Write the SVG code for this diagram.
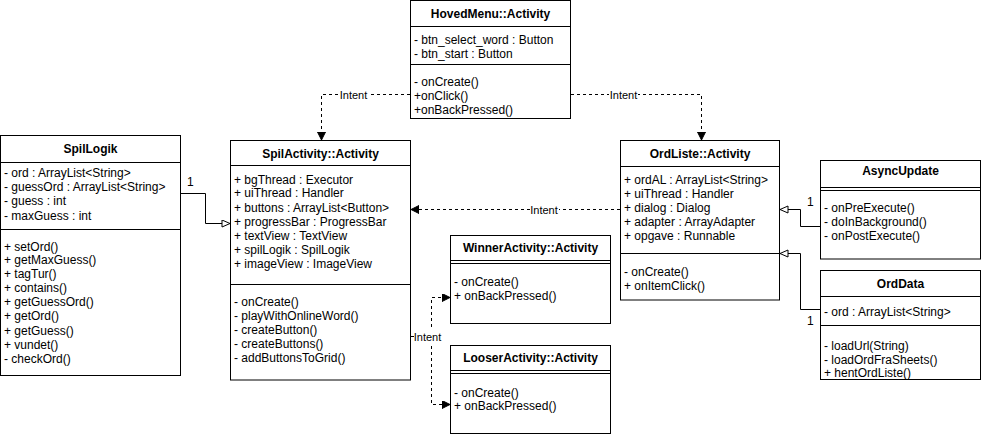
<svg xmlns="http://www.w3.org/2000/svg" width="981" height="438" viewBox="0 0 981 438">
<style>
  .box { fill: #ffffff; stroke: #000000; stroke-width: 1; }
  .ln { fill: none; stroke: #000000; stroke-width: 1; }
  .t { font-family: "Liberation Sans", Arial, sans-serif; font-size: 12px; fill: #000000; }
  .h { font-family: "Liberation Sans", Arial, sans-serif; font-size: 12px; font-weight: bold; fill: #000000; text-anchor: middle; }
  .lbl { font-family: "Liberation Sans", Arial, sans-serif; font-size: 11px; fill: #000000; text-anchor: middle; }
  .dash { fill: none; stroke: #000000; stroke-width: 1; stroke-dasharray: 3 3; }
  .lblbg { fill: #ffffff; stroke: none; }
</style>
<defs>
  <marker id="filled" markerUnits="userSpaceOnUse" markerWidth="10" markerHeight="9" refX="8" refY="4" orient="auto">
    <path d="M0,0 L8,4 L0,8 z" fill="#000000" stroke="#000000" stroke-width="1" stroke-dasharray="none"/>
  </marker>
  <marker id="hollow" markerUnits="userSpaceOnUse" markerWidth="11" markerHeight="9" refX="9" refY="4" orient="auto">
    <path d="M1,0.5 L9,4 L1,7.5 z" fill="#ffffff" stroke="#000000" stroke-width="1"/>
  </marker>
</defs>

<g id="connectors">
  <!-- HovedMenu -> SpilActivity -->
  <path class="dash" d="M410,94.5 H321.5 V140" marker-end="url(#filled)"/>
  <rect class="lblbg" x="339" y="88" width="29" height="13"/>
  <text class="lbl" x="353.5" y="98.5">Intent</text>
  <!-- HovedMenu -> OrdListe -->
  <path class="dash" d="M571,94.5 H701.5 V140" marker-end="url(#filled)"/>
  <rect class="lblbg" x="609" y="88" width="29" height="13"/>
  <text class="lbl" x="623.5" y="98.5">Intent</text>
  <!-- OrdListe -> SpilActivity -->
  <path class="dash" d="M620,209.5 H411" marker-end="url(#filled)"/>
  <rect class="lblbg" x="530" y="203" width="29" height="13"/>
  <text class="lbl" x="544" y="213.5">Intent</text>
  <!-- SpilActivity -> Winner / Looser -->
  <path class="dash" d="M411,336.5 H431.5 V297.5 H450" marker-end="url(#filled)"/>
  <path class="dash" d="M411,336.5 H431.5 V404.5 H450" marker-end="url(#filled)"/>
  <rect class="lblbg" x="414" y="330" width="27" height="13"/>
  <text class="lbl" x="427.5" y="340.5">Intent</text>
  <!-- SpilLogik -> SpilActivity -->
  <path class="ln" d="M181,193.5 H205.5 V223.5 H230" marker-end="url(#hollow)"/>
  <text class="t" x="187" y="186">1</text>
  <!-- AsyncUpdate -> OrdListe -->
  <path class="ln" d="M820,226.5 H800.5 V209.5 H780" marker-end="url(#hollow)"/>
  <text class="t" x="807" y="206">1</text>
  <!-- OrdData -> OrdListe -->
  <path class="ln" d="M820,309.5 H800.5 V253.5 H780" marker-end="url(#hollow)"/>
  <text class="t" x="807" y="325">1</text>
</g>

<g id="HovedMenu">
  <rect class="box" x="410.5" y="0.5" width="160" height="118"/>
  <line class="ln" x1="410.5" y1="26.5" x2="570.5" y2="26.5"/>
  <line class="ln" x1="410.5" y1="64.5" x2="570.5" y2="64.5"/>
  <text class="h" x="490.5" y="18">HovedMenu::Activity</text>
  <text class="t" x="414" y="44">- btn_select_word : Button</text>
  <text class="t" x="414" y="58">- btn_start : Button</text>
  <text class="t" x="414" y="86">- onCreate()</text>
  <text class="t" x="414" y="100">+onClick()</text>
  <text class="t" x="414" y="114">+onBackPressed()</text>
</g>

<g id="SpilLogik">
  <rect class="box" x="0.5" y="135.5" width="180" height="240"/>
  <line class="ln" x1="0.5" y1="162.5" x2="180.5" y2="162.5"/>
  <line class="ln" x1="0.5" y1="229.5" x2="180.5" y2="229.5"/>
  <text class="h" x="90.5" y="153">SpilLogik</text>
  <text class="t" x="4" y="177">- ord : ArrayList&lt;String&gt;</text>
  <text class="t" x="4" y="191">- guessOrd : ArrayList&lt;String&gt;</text>
  <text class="t" x="4" y="205">- guess : int</text>
  <text class="t" x="4" y="220">- maxGuess : int</text>
  <text class="t" x="4" y="251">+ setOrd()</text>
  <text class="t" x="4" y="264">+ getMaxGuess()</text>
  <text class="t" x="4" y="278">+ tagTur()</text>
  <text class="t" x="4" y="292">+ contains()</text>
  <text class="t" x="4" y="306">+ getGuessOrd()</text>
  <text class="t" x="4" y="320">+ getOrd()</text>
  <text class="t" x="4" y="335">+ getGuess()</text>
  <text class="t" x="4" y="349">+ vundet()</text>
  <text class="t" x="4" y="363">- checkOrd()</text>
</g>

<g id="SpilActivity">
  <rect class="box" x="230.5" y="140.5" width="180" height="239.5"/>
  <line class="ln" x1="230.5" y1="165.5" x2="410.5" y2="165.5"/>
  <line class="ln" x1="230.5" y1="284.5" x2="410.5" y2="284.5"/>
  <text class="h" x="320.5" y="158">SpilActivity::Activity</text>
  <text class="t" x="234" y="184">+ bgThread : Executor</text>
  <text class="t" x="234" y="197">+ uiThread : Handler</text>
  <text class="t" x="234" y="212">+ buttons : ArrayList&lt;Button&gt;</text>
  <text class="t" x="234" y="226">+ progressBar : ProgressBar</text>
  <text class="t" x="234" y="240">+ textView : TextView</text>
  <text class="t" x="234" y="254">+ spilLogik : SpilLogik</text>
  <text class="t" x="234" y="268">+ imageView : ImageView</text>
  <text class="t" x="234" y="306">- onCreate()</text>
  <text class="t" x="234" y="320">- playWithOnlineWord()</text>
  <text class="t" x="234" y="334">- createButton()</text>
  <text class="t" x="234" y="348">- createButtons()</text>
  <text class="t" x="234" y="362">- addButtonsToGrid()</text>
</g>

<g id="OrdListe">
  <rect class="box" x="620.5" y="140.5" width="159" height="159.5"/>
  <line class="ln" x1="620.5" y1="166.5" x2="779.5" y2="166.5"/>
  <line class="ln" x1="620.5" y1="253.5" x2="779.5" y2="253.5"/>
  <text class="h" x="700" y="158">OrdListe::Activity</text>
  <text class="t" x="624" y="184">+ ordAL : ArrayList&lt;String&gt;</text>
  <text class="t" x="624" y="198">+ uiThread : Handler</text>
  <text class="t" x="624" y="212">+ dialog : Dialog</text>
  <text class="t" x="624" y="226">+ adapter : ArrayAdapter</text>
  <text class="t" x="624" y="240">+ opgave : Runnable</text>
  <text class="t" x="624" y="276">- onCreate()</text>
  <text class="t" x="624" y="290">+ onItemClick()</text>
</g>

<g id="AsyncUpdate">
  <rect class="box" x="820.5" y="160.5" width="160" height="98.5"/>
  <line class="ln" x1="820.5" y1="187.5" x2="980.5" y2="187.5"/>
  <line class="ln" x1="820.5" y1="190.5" x2="980.5" y2="190.5"/>
  <text class="h" x="900.5" y="175">AsyncUpdate</text>
  <text class="t" x="824" y="212">- onPreExecute()</text>
  <text class="t" x="824" y="226">- doInBackground()</text>
  <text class="t" x="824" y="240">- onPostExecute()</text>
</g>

<g id="OrdData">
  <rect class="box" x="820.5" y="270.5" width="160" height="109"/>
  <line class="ln" x1="820.5" y1="296.5" x2="980.5" y2="296.5"/>
  <line class="ln" x1="820.5" y1="325.5" x2="980.5" y2="325.5"/>
  <text class="h" x="900.5" y="288">OrdData</text>
  <text class="t" x="824" y="316">- ord : ArrayList&lt;String&gt;</text>
  <text class="t" x="824" y="350">- loadUrl(String)</text>
  <text class="t" x="824" y="364">- loadOrdFraSheets()</text>
  <text class="t" x="824" y="377">+ hentOrdListe()</text>
</g>

<g id="WinnerActivity">
  <rect class="box" x="450.5" y="235.5" width="160" height="88"/>
  <line class="ln" x1="450.5" y1="260.5" x2="610.5" y2="260.5"/>
  <line class="ln" x1="450.5" y1="263.5" x2="610.5" y2="263.5"/>
  <text class="h" x="530.5" y="252">WinnerActivity::Activity</text>
  <text class="t" x="454" y="286">- onCreate()</text>
  <text class="t" x="454" y="300">+ onBackPressed()</text>
</g>

<g id="LooserActivity">
  <rect class="box" x="450.5" y="345.5" width="160" height="88"/>
  <line class="ln" x1="450.5" y1="370.5" x2="610.5" y2="370.5"/>
  <line class="ln" x1="450.5" y1="373.5" x2="610.5" y2="373.5"/>
  <text class="h" x="530.5" y="362">LooserActivity::Activity</text>
  <text class="t" x="454" y="397">- onCreate()</text>
  <text class="t" x="454" y="410">+ onBackPressed()</text>
</g>
</svg>
